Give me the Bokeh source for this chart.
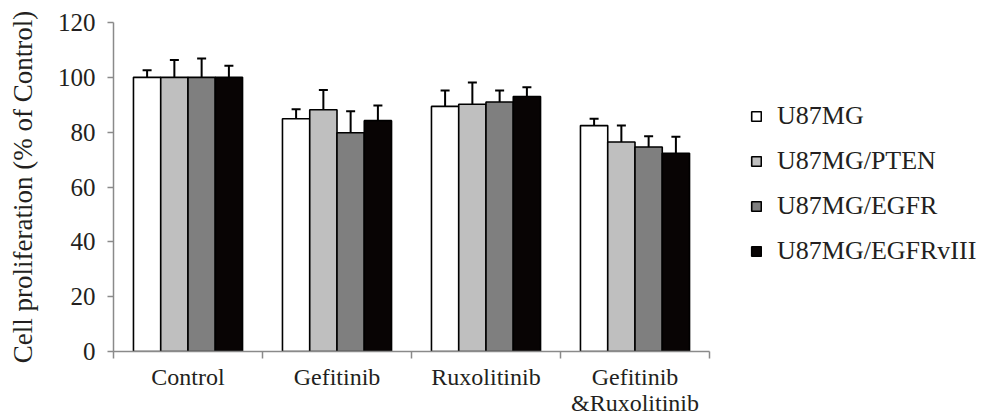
import numpy as np
from bokeh.plotting import figure
from bokeh.models import (ColumnDataSource, Range1d, FixedTicker, Whisker, TeeHead,
                          Legend, LegendItem)
from bokeh.transform import dodge
from bokeh.embed import file_html
from bokeh.resources import INLINE

categories = ["Control", "Gefitinib", "Ruxolitinib", "Gefitinib\n&Ruxolitinib"]
series = ["U87MG", "U87MG/PTEN", "U87MG/EGFR", "U87MG/EGFRvIII"]
colors = ["#ffffff", "#bfbfbf", "#7f7f7f", "#080404"]

u87mg = [100, 84.9, 89.4, 82.4]
u87mg_pten = [100, 88.2, 90.2, 76.4]
u87mg_egfr = [100, 79.8, 91.0, 74.6]
u87mg_egfrviii = [100, 84.2, 93.0, 72.3]

err_u87mg = [2.6, 3.5, 5.8, 2.5]
err_pten = [6.3, 7.2, 7.9, 6.0]
err_egfr = [6.9, 7.8, 4.2, 3.9]
err_egfrviii = [4.2, 5.5, 3.4, 6.0]

y_ticks = [0, 20, 40, 60, 80, 100, 120]

values = [u87mg, u87mg_pten, u87mg_egfr, u87mg_egfrviii]
errors = [err_u87mg, err_pten, err_egfr, err_egfrviii]

FONT = "Liberation Serif"
TXT = "#231f20"
AX = "#8a8a8a"

W, H = 987, 418
LEFT, TOP, BOTTOM = 113, 22, 64
AXIS_PX = 596                      # pixel length of the drawn x axis
frame_w = W - LEFT
n = len(categories)
x_end = n * frame_w / AXIS_PX      # range extends past the axis to host the legend

p = figure(width=W, height=H, output_backend="svg", toolbar_location=None,
           x_range=Range1d(0, x_end), y_range=Range1d(0, 120),
           min_border_left=LEFT, min_border_top=TOP, min_border_bottom=BOTTOM,
           min_border_right=0)
p.outline_line_color = None
p.grid.visible = False
p.background_fill_color = "white"

centers = [i + 0.5 for i in range(n)]
bw = 0.183
offsets = [-1.5 * bw, -0.5 * bw, 0.5 * bw, 1.5 * bw]

items = []
for name, vals, errs, col, off in zip(series, values, errors, colors, offsets):
    src = ColumnDataSource(dict(xc=centers, top=vals,
                                upper=[v + e for v, e in zip(vals, errs)]))
    r = p.vbar(x=dodge("xc", off), top="top", bottom=0, width=bw, source=src,
               fill_color=col, line_color="#000000", line_width=1.6)
    w = Whisker(source=src, base=dodge("xc", off), upper="upper", lower="top",
                dimension="height", line_width=2, line_color="#000000",
                upper_head=TeeHead(size=9, line_width=2, line_color="#000000"),
                lower_head=None)
    p.add_layout(w)
    items.append(LegendItem(label=name, renderers=[r]))

for ax in p.axis:
    ax.major_label_text_font = FONT
    ax.major_label_text_font_size = "25px"
    ax.major_label_text_color = TXT
    ax.axis_label_text_font = FONT
    ax.axis_label_text_color = TXT
    ax.axis_line_color = AX
    ax.axis_line_width = 1.5

# x axis
xa = p.xaxis[0]
xa.bounds = (0, n)
xa.ticker = FixedTicker(ticks=centers, minor_ticks=list(range(n + 1)))
xa.major_label_overrides = {c: lab for c, lab in zip(centers, categories)}
xa.major_tick_out = 0
xa.major_tick_in = 0
xa.minor_tick_out = 7
xa.minor_tick_in = 0
xa.minor_tick_line_color = AX
xa.minor_tick_line_width = 1.5
xa.major_label_standoff = 5
xa.major_label_text_font_size = "24px"
xa.major_label_text_line_height = 1.0

# y axis
ya = p.yaxis[0]
ya.ticker = FixedTicker(ticks=y_ticks)
ya.major_tick_out = 6
ya.major_tick_in = 0
ya.minor_tick_out = 0
ya.minor_tick_in = 0
ya.major_tick_line_color = AX
ya.major_tick_line_width = 1.5
ya.major_label_standoff = 12
ya.axis_label = "Cell proliferation (% of Control)"
ya.axis_label_text_font_size = "27px"
ya.axis_label_text_font_style = "normal"
ya.axis_label_standoff = 17

legend = Legend(items=items, location=(637, 85), orientation="vertical",
                glyph_width=12, glyph_height=12, label_standoff=15,
                label_height=30, spacing=15, padding=0, margin=0,
                border_line_color=None, background_fill_alpha=0,
                label_text_font=FONT, label_text_font_size="26px",
                label_text_color=TXT)
p.add_layout(legend, "center")

open("out.html", "w").write(file_html(p, INLINE))
